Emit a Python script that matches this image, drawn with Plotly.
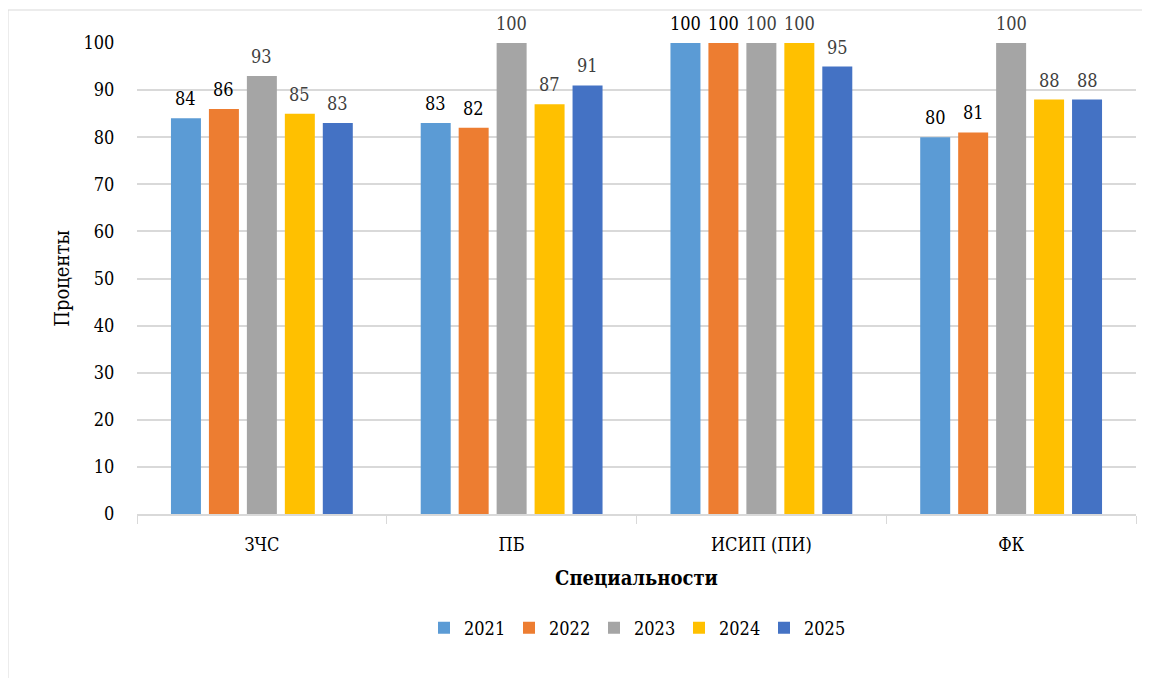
import plotly.graph_objects as go

categories = ["ЗЧС", "ПБ", "ИСИП (ПИ)", "ФК"]
years = ["2021", "2022", "2023", "2024", "2025"]
v2021 = [84, 83, 100, 80]
v2022 = [86, 82, 100, 81]
v2023 = [93, 100, 100, 100]
v2024 = [85, 87, 100, 88]
v2025 = [83, 91, 95, 88]
series = [v2021, v2022, v2023, v2024, v2025]
colors = ["#5B9BD5", "#ED7D31", "#A5A5A5", "#FFC000", "#4472C4"]
label_colors = ["#000000", "#000000", "#404040", "#404040", "#404040"]

FONT = "DejaVu Serif Condensed, DejaVu Serif"

W, H = 1150, 678
OFF = 8  # page offset of the figure in the screenshot
l, r, t, b = 137 - OFF, 22, 43 - OFF, 172
pw, ph = W - l - r, H - t - b
BARGAP, GROUPGAP = 0.24, 0.21

def px(x):
    return (x - OFF - l) / pw

def py(y):
    return (H - b - (y - OFF)) / ph

fig = go.Figure()
n = len(series)
cat_px = pw / len(categories)
slot_px = cat_px * (1 - BARGAP) / n
annotations = []
for i, (name, vals, c, lc) in enumerate(zip(years, series, colors, label_colors)):
    fig.add_trace(go.Bar(
        x=categories, y=vals, name=name,
        marker=dict(color=c, line=dict(width=0)),
        cliponaxis=False,
    ))
    for cat, v in zip(categories, vals):
        annotations.append(dict(
            x=cat, y=v, xref="x", yref="y", text=str(v), showarrow=False,
            yanchor="bottom", xanchor="center", yshift=7,
            xshift=(i - (n - 1) / 2) * slot_px,
            font=dict(family=FONT, size=18, color=lc),
        ))

fig.update_layout(
    width=W, height=H,
    margin=dict(l=l, r=r, t=t, b=b, autoexpand=False),
    paper_bgcolor="white", plot_bgcolor="white",
    font=dict(family=FONT, size=18, color="#000000"),
    barmode="group", bargap=BARGAP, bargroupgap=GROUPGAP,
    showlegend=True,
    legend=dict(orientation="h", x=0.5, xanchor="center", y=py(628), yanchor="middle",
                font=dict(family=FONT, size=18, color="#000000"),
                itemwidth=30, entrywidth=40, entrywidthmode="pixels"),
    xaxis=dict(
        title=dict(text="<b>Специальности</b>", font=dict(family=FONT, size=20), standoff=17),
        showgrid=False, showline=True, linecolor="#d9d9d9", linewidth=1.5,
        ticks="outside", tickcolor="#d9d9d9", ticklen=8, tickson="boundaries",
        ticklabelstandoff=14,
        tickfont=dict(family=FONT, size=18), automargin=False,
    ),
    yaxis=dict(
        title=dict(text="Проценты", font=dict(family=FONT, size=20), standoff=8),
        range=[0, 100], dtick=10, showgrid=True, gridcolor="#d9d9d9", gridwidth=1.5,
        zeroline=False, showline=False, ticks="outside", ticklen=18, tickcolor="rgba(0,0,0,0)",
        tickfont=dict(family=FONT, size=18), automargin=False,
    ),
    annotations=annotations,
    shapes=[dict(type="rect", xref="paper", yref="paper",
                 x0=px(8), x1=px(1157), y0=py(690), y1=py(10),
                 line=dict(color="#d9d9d9", width=1), fillcolor="rgba(0,0,0,0)", layer="below")],
)

fig.write_html("out.html")
